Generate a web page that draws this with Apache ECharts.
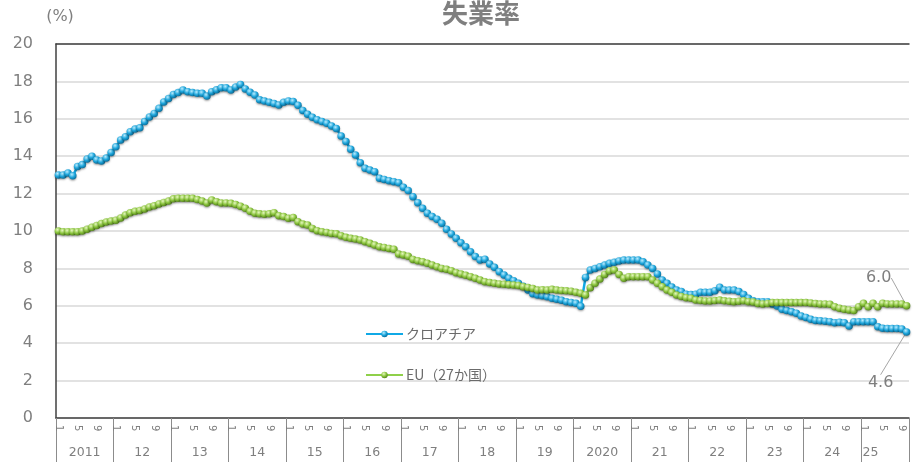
<!DOCTYPE html>
<html>
<head>
<meta charset="utf-8">
<script src="https://cdn.jsdelivr.net/npm/echarts@6/dist/echarts.min.js"></script>
<style>
  html, body { margin: 0; padding: 0; background: #fff; }
  #chart { width: 913px; height: 462px; }
</style>
</head>
<body>
<div id="chart"></div>
<script>
// monthly, Jan 2011 - Oct 2025
const yearLabels = ['2011', '12', '13', '14', '15', '16', '17', '18', '19', '2020', '21', '22', '23', '24', '25'];
const monthTicks = [1, 5, 9];

const croatia = [
  13.0, 13.0, 13.1, 12.95, 13.45, 13.55, 13.85, 14.0, 13.8, 13.75, 13.9, 14.2,
  14.5, 14.87, 15.04, 15.31, 15.45, 15.52, 15.85, 16.1, 16.29, 16.56, 16.9, 17.09,
  17.3, 17.4, 17.54, 17.45, 17.4, 17.36, 17.36, 17.22, 17.45, 17.55, 17.66, 17.66,
  17.54, 17.7, 17.84, 17.6, 17.42, 17.27, 17.02, 16.95, 16.88, 16.82, 16.74, 16.88,
  16.95, 16.92, 16.72, 16.45, 16.25, 16.08, 15.95, 15.85, 15.76, 15.62, 15.48, 15.08,
  14.78, 14.37, 14.06, 13.65, 13.35, 13.26, 13.17, 12.82, 12.76, 12.69, 12.64, 12.58,
  12.34, 12.16, 11.83, 11.51, 11.21, 10.95, 10.77, 10.63, 10.41, 10.09, 9.84, 9.61,
  9.37, 9.16, 8.89, 8.63, 8.45, 8.49, 8.24, 8.06, 7.82, 7.65, 7.47, 7.34,
  7.2, 7.05, 6.85, 6.65, 6.58, 6.54, 6.48, 6.4, 6.35, 6.3, 6.22, 6.18,
  6.13, 5.97, 7.52, 7.91, 8.0, 8.09, 8.18, 8.27, 8.33, 8.4, 8.45, 8.45,
  8.45, 8.45, 8.35, 8.18, 8.0, 7.7, 7.38, 7.2, 7.0, 6.84, 6.76, 6.62,
  6.6, 6.62, 6.72, 6.72, 6.72, 6.81, 6.99, 6.84, 6.84, 6.84, 6.76, 6.6,
  6.4, 6.27, 6.22, 6.22, 6.22, 6.1, 5.99, 5.81, 5.75, 5.68, 5.6, 5.45,
  5.38, 5.28, 5.22, 5.2, 5.18, 5.15, 5.1, 5.12, 5.1, 4.92, 5.15, 5.15,
  5.15, 5.15, 5.15, 4.88, 4.8, 4.78, 4.78, 4.78, 4.76, 4.6
];

const eu27 = [
  10.0, 9.96, 9.96, 9.96, 9.96, 10.0, 10.1, 10.2, 10.3, 10.4, 10.48, 10.53,
  10.58, 10.7, 10.85, 10.97, 11.05, 11.1, 11.18, 11.28, 11.35, 11.45, 11.53, 11.6,
  11.72, 11.75, 11.75, 11.75, 11.75, 11.68, 11.6, 11.5, 11.66, 11.57, 11.5, 11.5,
  11.48, 11.42, 11.33, 11.22, 11.05, 10.95, 10.92, 10.9, 10.92, 10.98, 10.82, 10.77,
  10.68, 10.72, 10.5, 10.37, 10.32, 10.14, 10.02, 9.96, 9.92, 9.87, 9.85, 9.75,
  9.66, 9.61, 9.57, 9.52, 9.43, 9.34, 9.25, 9.16, 9.12, 9.07, 9.02, 8.77,
  8.72, 8.65, 8.48, 8.41, 8.35, 8.27, 8.18, 8.09, 8.0, 7.95, 7.88, 7.77,
  7.7, 7.63, 7.56, 7.47, 7.38, 7.29, 7.24, 7.2, 7.17, 7.15, 7.13, 7.11,
  7.08, 7.02, 6.98, 6.93, 6.84, 6.86, 6.84, 6.88, 6.84, 6.82, 6.8, 6.78,
  6.72, 6.67, 6.58, 6.97, 7.2, 7.43, 7.68, 7.86, 7.91, 7.68, 7.47, 7.56,
  7.56, 7.56, 7.56, 7.56, 7.38, 7.2, 7.02, 6.84, 6.72, 6.58, 6.5, 6.43,
  6.4, 6.31, 6.28, 6.26, 6.26, 6.28, 6.31, 6.27, 6.24, 6.22, 6.24, 6.27,
  6.22, 6.2, 6.12, 6.1, 6.12, 6.17, 6.17, 6.17, 6.17, 6.17, 6.17, 6.17,
  6.17, 6.15, 6.12, 6.1, 6.1, 6.08, 5.95, 5.87, 5.81, 5.78, 5.75, 5.95,
  6.13, 5.95, 6.13, 5.95, 6.13, 6.1, 6.1, 6.1, 6.1, 6.0
];

const categories = croatia.map((v, i) => `${2011 + Math.floor(i / 12)}/${i % 12 + 1}`);
const last = croatia.length - 1;

const font = "'DejaVu Sans', 'Noto Sans CJK JP', sans-serif";
const gray = '#7f7f7f';

function bead(light, mid, dark) {
  return {
    type: 'radial', x: 0.38, y: 0.32, r: 0.7,
    colorStops: [{ offset: 0, color: light }, { offset: 0.55, color: mid }, { offset: 1, color: dark }]
  };
}

function withLastLabel(arr) {
  return arr.map((v, i) => i === last ? { value: v, label: { show: true } } : v);
}

function makeSeries(name, data, lineColor, ball, shift) {
  return {
    name,
    type: 'line',
    data: withLastLabel(data),
    symbol: 'circle',
    symbolSize: 7.5,
    showAllSymbol: true,
    animation: false,
    lineStyle: { color: lineColor, width: 2.5 },
    itemStyle: {
      color: ball,
      borderWidth: 0,
      shadowBlur: 2,
      shadowColor: 'rgba(0,0,0,0.35)',
      shadowOffsetY: 1.2
    },
    emphasis: { disabled: true },
    label: {
      show: false,
      position: shift.pos,
      fontFamily: font,
      fontSize: 16,
      color: gray,
      formatter: p => Number(p.value).toFixed(1)
    },
    labelLine: { show: true, lineStyle: { color: '#a6a6a6', width: 1 } },
    labelLayout: p => p.dataIndex === last ? { dx: shift.dx, dy: shift.dy } : {}
  };
}

const chart = echarts.init(document.getElementById('chart'));

chart.setOption({
  backgroundColor: '#fff',
  textStyle: { fontFamily: font },
  title: {
    text: '失業率',
    left: 437,
    top: -5,
    textStyle: { fontFamily: "'Noto Sans CJK JP'", fontSize: 26, fontWeight: 'bold', color: gray }
  },
  legend: {
    left: 360,
    top: 322,
    orient: 'vertical',
    itemWidth: 37,
    itemHeight: 8,
    itemGap: 27,
    textStyle: { fontFamily: "'Noto Sans CJK JP'", fontSize: 14, color: '#6b6b6b', padding: [0, 0, 0, -2] },
    data: ['クロアチア', 'EU（27か国）']
  },
  grid: { left: 56, right: 4, top: 44, bottom: 44 },
  xAxis: [
    {
      type: 'category',
      data: categories,
      boundaryGap: true,
      axisLine: { lineStyle: { color: '#404040', width: 1.5 } },
      axisTick: {
        show: true,
        length: 44,
        interval: i => i % 12 === 0,
        lineStyle: { color: '#8c8c8c', width: 1 }
      },
      axisLabel: {
        interval: i => monthTicks.includes(i % 12 + 1),
        formatter: (v, i) => String(i % 12 + 1),
        rotate: -90,
        margin: 7,
        fontSize: 10,
        color: gray
      }
    },
    {
      type: 'category',
      data: categories,
      boundaryGap: true,
      position: 'bottom',
      axisLine: { show: false },
      axisTick: { show: false },
      axisLabel: {
        interval: i => i % 12 === 6 && i + 6 <= last || i === 170,
        formatter: (v, i) => yearLabels[Math.floor(i / 12)],
        margin: 28,
        fontSize: 12.5,
        color: gray,
        padding: [0, 5, 0, 0]
      }
    },
    {
      type: 'category',
      data: categories,
      position: 'top',
      axisLine: { lineStyle: { color: '#404040', width: 1.5 } },
      axisTick: { show: false },
      axisLabel: { show: false }
    }
  ],
  yAxis: {
    type: 'value',
    min: 0,
    max: 20,
    interval: 2,
    name: '(%)',
    nameLocation: 'end',
    nameGap: 19,
    nameTextStyle: { fontSize: 16, color: gray, padding: [0, 0, 0, 8] },
    axisLine: { show: true, lineStyle: { color: '#404040', width: 1.5 } },
    axisTick: { show: false },
    axisLabel: { fontSize: 16, color: gray, margin: 23 },
    splitLine: { lineStyle: { color: '#d9d9d9', width: 1.5 } }
  },
  series: [
    makeSeries('クロアチア', croatia, '#10a9e6',
      bead('#b9ecff', '#1ea6dc', '#0a6d99'), { pos: 'bottom', dx: -26, dy: 34 }),
    makeSeries('EU（27か国）', eu27, '#8fd04a',
      bead('#e6f8bf', '#8cc63f', '#55851b'), { pos: 'top', dx: -28, dy: -11 })
  ]
});
</script>
</body>
</html>
